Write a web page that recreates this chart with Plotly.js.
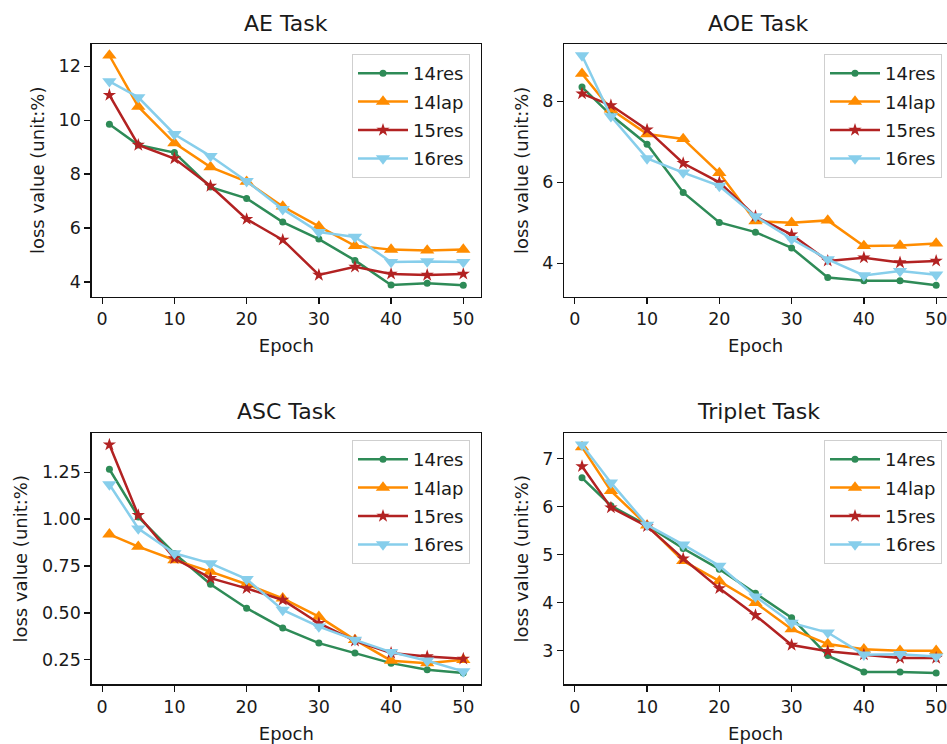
<!DOCTYPE html>
<html>
<head>
<meta charset="utf-8">
<script src="https://cdn.plot.ly/plotly-3.0.1.min.js"></script>
<style>
  html, body { margin: 0; padding: 0; background: #fff; }
  #chart { width: 947px; height: 744px; }
</style>
</head>
<body>
<div id="chart"></div>
<script>
// ---------------- data ----------------
const epochs = [1, 5, 10, 15, 20, 25, 30, 35, 40, 45, 50];
const seriesNames = ["14res", "14lap", "15res", "16res"];
const taskTitles = ["AE Task", "AOE Task", "ASC Task", "Triplet Task"];

// AE Task
const ae_14res = [9.85, 9.08, 8.8, 7.52, 7.1, 6.22, 5.59, 4.8, 3.89, 3.95, 3.88];
const ae_14lap = [12.4, 10.5, 9.15, 8.26, 7.72, 6.8, 6.06, 5.34, 5.2, 5.17, 5.2];
const ae_15res = [10.93, 9.08, 8.58, 7.56, 6.33, 5.56, 4.26, 4.56, 4.3, 4.26, 4.3];
const ae_16res = [11.44, 10.85, 9.48, 8.67, 7.74, 6.7, 5.85, 5.67, 4.74, 4.76, 4.74];

// AOE Task
const aoe_14res = [8.35, 7.66, 6.94, 5.75, 5.01, 4.77, 4.38, 3.65, 3.57, 3.57, 3.46];
const aoe_14lap = [8.68, 7.8, 7.19, 7.07, 6.23, 5.04, 5.0, 5.06, 4.43, 4.44, 4.49];
const aoe_15res = [8.19, 7.9, 7.3, 6.47, 6.0, 5.16, 4.71, 4.06, 4.14, 4.02, 4.06];
const aoe_16res = [9.13, 7.63, 6.59, 6.24, 5.91, 5.16, 4.6, 4.1, 3.7, 3.81, 3.72];

// ASC Task
const asc_14res = [1.266, 1.012, 0.817, 0.653, 0.525, 0.419, 0.339, 0.286, 0.232, 0.197, 0.18];
const asc_14lap = [0.919, 0.853, 0.782, 0.72, 0.653, 0.578, 0.48, 0.356, 0.245, 0.232, 0.25];
const asc_15res = [1.397, 1.021, 0.791, 0.685, 0.631, 0.569, 0.445, 0.351, 0.286, 0.268, 0.255];
const asc_16res = [1.185, 0.95, 0.818, 0.764, 0.68, 0.516, 0.427, 0.356, 0.291, 0.245, 0.188];

// Triplet Task
const tri_14res = [6.6, 6.02, 5.61, 5.13, 4.7, 4.2, 3.69, 2.9, 2.56, 2.56, 2.54];
const tri_14lap = [7.24, 6.33, 5.61, 4.87, 4.45, 4.0, 3.45, 3.14, 3.03, 3.0, 3.0];
const tri_15res = [6.84, 5.98, 5.59, 4.92, 4.3, 3.74, 3.12, 2.99, 2.92, 2.85, 2.85];
const tri_16res = [7.29, 6.5, 5.62, 5.21, 4.77, 4.13, 3.58, 3.38, 2.92, 2.93, 2.88];

// tick labels
const xTicks = [0, 10, 20, 30, 40, 50];
const aeYTicks = [4, 6, 8, 10, 12];
const aoeYTicks = [4, 6, 8];
const ascYTicks = [0.25, 0.5, 0.75, 1.0, 1.25];
const ascYTickText = ["0.25", "0.50", "0.75", "1.00", "1.25"];
const triYTicks = [3, 4, 5, 6, 7];

const xLabel = "Epoch";
const yLabel = "loss value (unit:%)";

// ---------------- styles ----------------
const colors = ["#2E8B57", "#FF8C00", "#B22222", "#87CEEB"];
const symbols = ["circle", "triangle-up", "star", "triangle-down"];
const sizes = [7, 12.5, 10, 12.5];
const FONT = "DejaVu Sans, Liberation Sans, sans-serif";
const TXT = "#1a1a1a";

const tasks = [
  { data: [ae_14res, ae_14lap, ae_15res, ae_16res], yt: aeYTicks, ytt: null },
  { data: [aoe_14res, aoe_14lap, aoe_15res, aoe_16res], yt: aoeYTicks, ytt: null },
  { data: [asc_14res, asc_14lap, asc_15res, asc_16res], yt: ascYTicks, ytt: ascYTickText },
  { data: [tri_14res, tri_14lap, tri_15res, tri_16res], yt: triYTicks, ytt: null }
];

function autoRange(arrs) {
  let lo = Infinity, hi = -Infinity;
  arrs.forEach(a => a.forEach(v => { lo = Math.min(lo, v); hi = Math.max(hi, v); }));
  const m = (hi - lo) * 0.05;
  return [lo - m, hi + m];
}

const W = 947, H = 744;
// pixel boxes [left, right, top, bottom]
const boxes = [
  [91.7, 481, 44, 296.7],
  [564.3, 947, 44, 296.7],
  [91.7, 481, 433.3, 684.3],
  [564.3, 947, 433.3, 684.3]
];
const xRanges = [[-1.45, 52.45], [-1.45, 51.5], [-1.45, 52.45], [-1.45, 51.5]];
// legend top-right anchor (px)
const legendPos = [[470, 54], [942, 54], [470, 440], [942, 440]];
const titleY = [24, 411];

const traces = [];
const layout = {
  width: W, height: H,
  margin: { l: 0, r: 0, t: 0, b: 0 },
  paper_bgcolor: "#fff", plot_bgcolor: "#fff",
  font: { family: FONT, color: TXT, size: 18 },
  showlegend: true,
  annotations: []
};

tasks.forEach((task, i) => {
  const n = i + 1;
  const xa = n === 1 ? "x" : "x" + n;
  const ya = n === 1 ? "y" : "y" + n;
  const lg = n === 1 ? "legend" : "legend" + n;
  task.data.forEach((vals, s) => {
    traces.push({
      x: epochs, y: vals, name: seriesNames[s],
      type: "scatter", mode: "lines+markers",
      xaxis: xa, yaxis: ya, legend: lg,
      legendgroup: "p" + n + "s" + s,
      line: { color: colors[s], width: 2.5 },
      marker: { symbol: symbols[s], size: sizes[s], color: colors[s], line: { width: 0 } }
    });
  });
  const b = boxes[i];
  const axCommon = {
    showgrid: false, zeroline: false, showline: true, mirror: true,
    linecolor: "#111", linewidth: 1.3,
    ticks: "outside", ticklen: 6, tickwidth: 1.3, tickcolor: "#111",
    ticklabeloverflow: "allow",
    tickfont: { family: FONT, size: 17.5, color: TXT }
  };
  layout["xaxis" + (n === 1 ? "" : n)] = Object.assign({}, axCommon, {
    domain: [b[0] / W, b[1] / W],
    anchor: ya,
    range: xRanges[i],
    tickmode: "array", tickvals: xTicks,
    title: { text: xLabel, font: { family: FONT, size: 18, color: TXT }, standoff: 11 }
  });
  const yax = Object.assign({}, axCommon, {
    domain: [(H - b[3]) / H, (H - b[2]) / H],
    anchor: xa,
    range: autoRange(task.data),
    tickmode: "array", tickvals: task.yt,
    title: { text: yLabel, font: { family: FONT, size: 18, color: TXT }, standoff: 9 }
  });
  if (task.ytt) yax.ticktext = task.ytt;
  layout["yaxis" + (n === 1 ? "" : n)] = yax;

  const lp = legendPos[i];
  layout[lg] = {
    x: lp[0] / W, y: (H - lp[1]) / H, xanchor: "right", yanchor: "top",
    xref: "paper", yref: "paper",
    bgcolor: "rgba(255,255,255,0.85)", bordercolor: "#cfcfcf", borderwidth: 1,
    font: { family: FONT, size: 18, color: TXT },
    traceorder: "grouped", tracegroupgap: 2,
    itemwidth: 50
  };
  layout.annotations.push({
    text: taskTitles[i], showarrow: false,
    xref: "paper", yref: "paper",
    x: ((b[0] + (i % 2 === 1 ? 953.6 : b[1])) / 2) / W,
    y: (H - titleY[i < 2 ? 0 : 1]) / H,
    xanchor: "center", yanchor: "middle",
    font: { family: FONT, size: 22, color: TXT }
  });
});

Plotly.newPlot("chart", traces, layout, { displayModeBar: false, staticPlot: true });
</script>
</body>
</html>
